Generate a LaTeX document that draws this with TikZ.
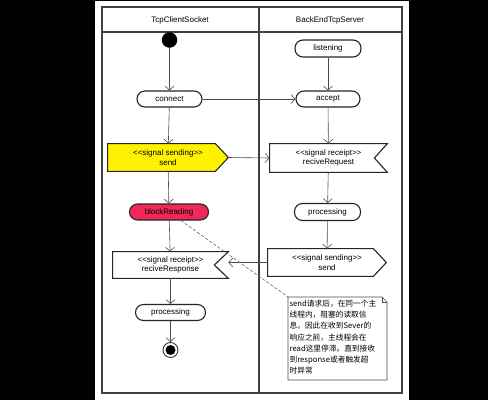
\documentclass[tikz,border=0pt]{standalone}
\usepackage{fontspec}
\setmainfont{Liberation Sans}[Ligatures=TeXOff]
\newfontfamily\cjk{Noto Sans CJK SC}
\usetikzlibrary{arrows.meta,backgrounds}

\tikzset{every picture/.style={line width=0.75pt}}
\tikzset{
  lbl/.style={font=\fontsize{8}{9.5}\selectfont, inner sep=0.75pt},
  action/.style={lbl, draw=black!85, line width=1.1pt, fill=white, rounded corners=8pt, minimum height=16pt},
  sigtext/.style={lbl, align=center, inner sep=0pt},
  sigline/.style={draw=black!85, line width=1.1pt, fill=white, line join=miter},
  flow/.style={draw=black!70, line width=0.6pt, -{Straight Barb[length=4pt,width=9pt]}},
  notelink/.style={draw=black!60, line width=0.6pt, dash pattern=on 3pt off 2pt},
}

\begin{document}
\begin{tikzpicture}[x=1pt,y=1pt,yscale=-1,xscale=1]
	%Shape: Background
	\begin{scope}[on background layer]
	\fill[black] (0,0) rectangle (488,400);
	\fill[white] (95,1) rectangle (409,400);
	\end{scope}
	
	%Shape: Rectangle (swimlane frame)
	\draw[black!75, line width=1.3pt] (102,7) rectangle (402,393);
	\draw[black!75, line width=1.3pt] (102,32) -- (402,32);
	\draw[black!75, line width=1.3pt] (259,7) -- (259,393);
	
	% Text Node
	\node (clientHead) [lbl] at (180,20) {TcpClientSocket};
	% Text Node
	\node (serverHead) [lbl] at (330,20) {BackEndTcpServer};
	
	%Shape: Circle (initial)
	\node (init) [circle, fill=black, minimum size=15.5pt, inner sep=0pt] at (169.5,40) {};
	%Shape: Circle (final)
	\node (final) [circle, draw=black!80, line width=0.9pt, minimum size=15pt, inner sep=0pt,
	  path picture={\fill[black] (path picture bounding box.center) circle (5pt);}] at (170.5,350) {};
	
	%Rounded Rect
	\node (connect) [action, minimum width=65pt] at (169.5,99) {connect};
	% Text Node (signal sending)
	\node (sendReq) [sigtext, minimum width=120pt, minimum height=27pt] at (168,157.5) {<<signal sending>>\\send};
	%Rounded Rect
	\node (blockReading) [action, fill={rgb,255:red,240;green,40;blue,90}, minimum width=79pt] at (169,212) {blockReading};
	% Text Node (signal receipt)
	\node (reciveResponse) [sigtext, minimum width=115pt, minimum height=26pt] at (170.5,265) {<<signal receipt>>\\reciveResponse};
	%Rounded Rect
	\node (processingC) [action, minimum width=70pt] at (170.5,312.5) {processing};
	
	%Rounded Rect
	\node (listening) [action, minimum width=66pt, minimum height=17pt] at (328,48.5) {listening};
	%Rounded Rect
	\node (accept) [action, minimum width=64pt] at (328,99) {accept};
	% Text Node (signal receipt)
	\node (reciveRequest) [sigtext, minimum width=117pt, minimum height=28pt] at (328.5,158) {<<signal receipt>>\\reciveRequest};
	%Rounded Rect
	\node (processingS) [action, minimum width=66pt, minimum height=17pt] at (327.5,212) {processing};
	% Text Node (signal sending)
	\node (sendResp) [sigtext, minimum width=118pt, minimum height=27pt] at (327,262.5) {<<signal sending>>\\send};
	
	%Shape: Signal outlines
	\begin{scope}[on background layer]
	\draw[sigline, fill=yellow] (sendReq.north west) -- ([xshift=-13pt]sendReq.north east) -- (sendReq.east) -- ([xshift=-13pt]sendReq.south east) -- (sendReq.south west) -- cycle;
	\draw[sigline] (sendResp.north west) -- ([xshift=-13pt]sendResp.north east) -- (sendResp.east) -- ([xshift=-13pt]sendResp.south east) -- (sendResp.south west) -- cycle;
	\draw[sigline] (reciveRequest.north west) -- (reciveRequest.north east) -- ([xshift=-13pt]reciveRequest.east) -- (reciveRequest.south east) -- (reciveRequest.south west) -- cycle;
	\draw[sigline] (reciveResponse.north west) -- (reciveResponse.north east) -- ([xshift=-14pt]reciveResponse.east) -- (reciveResponse.south east) -- (reciveResponse.south west) -- cycle;
	\end{scope}
	
	%Shape: Note
	\draw[black!70, line width=0.6pt, fill=white] (288,297) -- (382,297) -- (387,302) -- (387,380) -- (288,380) -- cycle;
	\draw[black!70, line width=0.6pt] (382,297) -- (382,302) -- (387,302);
	\coordinate (noteCorner) at (288,297);
	% Text Node
	\node (note) [anchor=north west, align=left, inner sep=0.75pt, font=\cjk\fontsize{7.7}{11.3}\selectfont] at (288.5,298.5)
	  {send请求后，在同一个主\\线程内，阻塞的读取信\\息。因此在收到Sever的\\响应之前，主线程会在\\read这里停滞。直到接收\\到response或者触发超\\时异常};
	
	% Connection
	\draw[flow] (init) -- (connect);
	\draw[flow] (connect) -- (sendReq);
	\draw[flow] (sendReq) -- (blockReading);
	\draw[flow] (blockReading) -- (reciveResponse);
	\draw[flow] (reciveResponse) -- (processingC);
	\draw[flow] (processingC) -- (final);
	% Connection
	\draw[flow] (listening) -- (accept);
	\draw[flow] (accept) -- (reciveRequest);
	\draw[flow] (reciveRequest) -- (processingS);
	\draw[flow] (processingS) -- (sendResp);
	% Connection
	\draw[flow] (connect.east) -- (accept.west);
	\draw[flow] (sendReq.east) -- (reciveRequest.west);
	\draw[flow] (sendResp.west) -- (sendResp.west -| reciveResponse.east);
	% Connection
	\draw[notelink] (blockReading) -- (noteCorner);
	
\end{tikzpicture}
\end{document}
